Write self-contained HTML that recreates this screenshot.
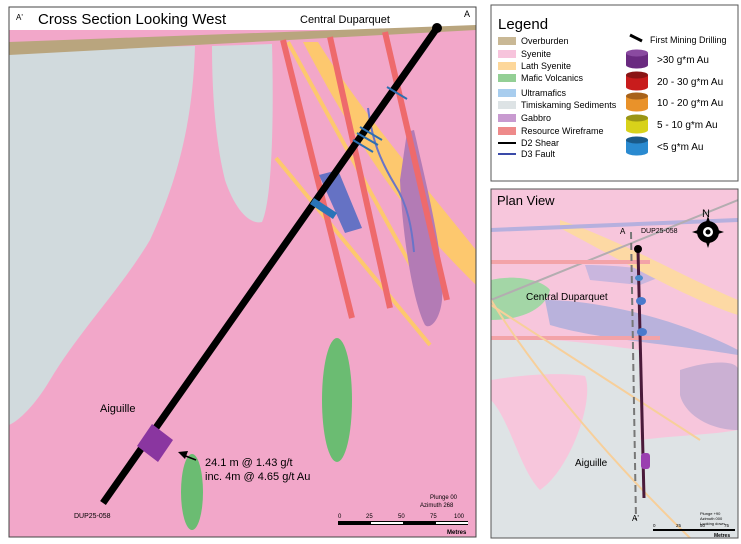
<!DOCTYPE html>
<html><head><meta charset="utf-8"><style>
body{margin:0;background:#fff;width:741px;height:544px;overflow:hidden}
svg{display:block;font-family:"Liberation Sans",Arial,sans-serif}
</style></head><body>
<svg width="741" height="544" viewBox="0 0 741 544">
<rect width="741" height="544" fill="#fff"/>
<!-- MAIN PANEL -->
<clipPath id="mc"><rect x="9" y="7" width="467" height="530"/></clipPath>
<g clip-path="url(#mc)">
<rect x="9" y="30" width="467" height="507" fill="#f2a7c9"/>
<path d="M9,50 L195,46 C193,120 178,180 150,240 C120,290 80,330 50,380 C35,405 20,420 9,425 Z" fill="#d1dadd"/>
<path d="M212,46 L272,44 C274,120 272,200 262,222 C250,225 235,210 225,180 C215,140 212,90 212,46 Z" fill="#d1dadd"/>
<path d="M9,42 L476,25 L476,30 L9,55 Z" fill="#b9a57e"/>
<path d="M303,42 L318,42 C360,110 420,180 476,250 L476,285 C420,230 370,170 303,42 Z" fill="#fdc86e"/>
<line x1="288" y1="42" x2="437" y2="313" stroke="#fdc86e" stroke-width="4"/>
<line x1="276" y1="158" x2="430" y2="345" stroke="#fdc86e" stroke-width="4"/>
<path d="M407,132 L414,130 C430,200 445,260 442,300 C440,320 430,330 425,325 C412,300 402,230 400,180 Z" fill="#b37bb5"/>
<g stroke="#ee6a6c" stroke-width="6"><line x1="283" y1="40" x2="352" y2="318"/><line x1="330" y1="37" x2="390" y2="308"/><line x1="385" y1="32" x2="447" y2="300"/></g>
<path d="M319,175 L338,170 L362,228 L345,233 Z" fill="#6572c4"/>
<path d="M368,108 C372,140 380,160 395,185 C408,205 412,230 414,252" stroke="#6a74c8" stroke-width="2" fill="none"/>
<ellipse cx="337" cy="400" rx="15" ry="62" fill="#6bbc72"/>
<ellipse cx="192" cy="492" rx="11" ry="38" fill="#6bbc72"/>
<line x1="437" y1="28" x2="103" y2="503" stroke="#000" stroke-width="7"/>
<circle cx="437" cy="28" r="5" fill="#000"/>
<g stroke="#2d6fb0" stroke-width="2"><line x1="387" y1="87" x2="407" y2="99"/><line x1="360" y1="127" x2="382" y2="140"/><line x1="357" y1="133" x2="378" y2="145"/><line x1="353" y1="140" x2="373" y2="152"/></g>
<path d="M314,198 L337,213 L333,219 L310,204 Z" fill="#2a74b8"/>
<path d="M152,424 L173,440 L158,462 L137,446 Z" fill="#8a36a0"/>
<line x1="196" y1="460" x2="183" y2="455" stroke="#000" stroke-width="1.5"/>
<path d="M178,452 L188,451 L185,459 Z" fill="#000"/>
</g>
<rect x="9" y="7" width="467" height="530" fill="none" stroke="#444" stroke-width="1"/>
<text x="16" y="20" font-size="8">A'</text>
<text x="38" y="24" font-size="15">Cross Section Looking West</text>
<text x="300" y="23" font-size="11">Central Duparquet</text>
<text x="464" y="17" font-size="9">A</text>
<text x="100" y="412" font-size="11">Aiguille</text>
<text x="205" y="466" font-size="11">24.1 m @ 1.43 g/t</text>
<text x="205" y="480" font-size="11">inc. 4m @ 4.65 g/t Au</text>
<text x="74" y="518" font-size="7">DUP25-058</text>
<text x="430" y="499" font-size="6">Plunge 00</text>
<text x="420" y="507" font-size="6">Azimuth 268</text>
<g font-size="6"><text x="338" y="518">0</text><text x="366" y="518">25</text><text x="398" y="518">50</text><text x="430" y="518">75</text><text x="454" y="518">100</text></g>
<rect x="338" y="521" width="130" height="4" fill="#000"/>
<rect x="371" y="522" width="32" height="2" fill="#fff"/><rect x="436" y="522" width="32" height="2" fill="#fff"/>
<text x="447" y="534" font-size="6" font-weight="bold">Metres</text>
<!-- LEGEND -->
<rect x="491" y="5" width="247" height="176" fill="#fff" stroke="#555"/>
<text x="498" y="29" font-size="15">Legend</text>
<g font-size="9">
<rect x="498" y="37" width="18" height="8" fill="#c9b895"/><text x="521" y="44">Overburden</text>
<rect x="498" y="50" width="18" height="8" fill="#f7c4dc"/><text x="521" y="57">Syenite</text>
<rect x="498" y="62" width="18" height="8" fill="#fdd79a"/><text x="521" y="69">Lath Syenite</text>
<rect x="498" y="74" width="18" height="8" fill="#93cf95"/><text x="521" y="81">Mafic Volcanics</text>
<rect x="498" y="89" width="18" height="8" fill="#a8cdee"/><text x="521" y="96">Ultramafics</text>
<rect x="498" y="101" width="18" height="8" fill="#dde3e5"/><text x="521" y="108">Timiskaming Sediments</text>
<rect x="498" y="114" width="18" height="8" fill="#c89ad0"/><text x="521" y="121">Gabbro</text>
<rect x="498" y="127" width="18" height="8" fill="#ee8a8a"/><text x="521" y="134">Resource Wireframe</text>
<line x1="498" y1="143" x2="516" y2="143" stroke="#000" stroke-width="2"/><text x="521" y="146">D2 Shear</text>
<line x1="498" y1="154" x2="516" y2="154" stroke="#3a4aa8" stroke-width="2"/><text x="521" y="157">D3 Fault</text>
<line x1="630" y1="35" x2="642" y2="41" stroke="#000" stroke-width="3"/><text x="650" y="43">First Mining Drilling</text>
<text x="657" y="63" font-size="10">&gt;30 g*m Au</text>
<text x="657" y="85" font-size="10">20 - 30 g*m Au</text>
<text x="657" y="106" font-size="10">10 - 20 g*m Au</text>
<text x="657" y="128" font-size="10">5 - 10 g*m Au</text>
<text x="657" y="150" font-size="10">&lt;5 g*m Au</text>
</g>
<g><rect x="626" y="53" width="22" height="12" fill="#6a2a80"/><ellipse cx="637" cy="53" rx="11" ry="3.5" fill="#8a4aa0"/><ellipse cx="637" cy="65" rx="11" ry="3.5" fill="#6a2a80"/>
<rect x="626" y="75" width="22" height="12" fill="#c81c1c"/><ellipse cx="637" cy="75" rx="11" ry="3.5" fill="#8a1515"/><ellipse cx="637" cy="87" rx="11" ry="3.5" fill="#c81c1c"/>
<rect x="626" y="96" width="22" height="12" fill="#e9922a"/><ellipse cx="637" cy="96" rx="11" ry="3.5" fill="#a8621a"/><ellipse cx="637" cy="108" rx="11" ry="3.5" fill="#e9922a"/>
<rect x="626" y="118" width="22" height="12" fill="#d8d21a"/><ellipse cx="637" cy="118" rx="11" ry="3.5" fill="#9a9515"/><ellipse cx="637" cy="130" rx="11" ry="3.5" fill="#d8d21a"/>
<rect x="626" y="140" width="22" height="12" fill="#2a8ad0"/><ellipse cx="637" cy="140" rx="11" ry="3.5" fill="#1a5a8a"/><ellipse cx="637" cy="152" rx="11" ry="3.5" fill="#2a8ad0"/></g>
<!-- PLAN VIEW -->
<clipPath id="pc"><rect x="491" y="189" width="247" height="349"/></clipPath>
<g clip-path="url(#pc)">
<rect x="491" y="189" width="247" height="349" fill="#f7c6dc"/>
<path d="M491,340 C540,335 600,345 640,350 L640,538 L491,538 Z" fill="#dee3e5"/>
<path d="M491,380 C520,375 560,372 585,376 C595,400 570,470 540,490 C520,470 510,420 491,400 Z" fill="#f7c6dc"/>
<path d="M640,440 C680,435 710,435 738,430 L738,538 L640,538 Z" fill="#dee3e5"/>
<path d="M680,370 C710,360 738,360 738,370 L738,430 C710,430 685,415 680,395 Z" fill="#cbb0d3"/>
<path d="M491,280 C510,275 540,278 550,290 C545,310 520,320 491,320 Z" fill="#a3d6a6"/>
<path d="M545,300 C600,300 680,320 738,350 L738,355 C680,345 600,340 550,325 Z" fill="#b9b2dc"/>
<path d="M585,265 C620,265 660,270 665,275 L640,285 L590,280 Z" fill="#c9b6de"/>
<path d="M560,220 C620,240 690,280 738,300 L738,315 C690,300 620,260 560,228 Z" fill="#fdd9a4"/>
<line x1="491" y1="230" x2="738" y2="220" stroke="#b6b0de" stroke-width="4"/>
<line x1="491" y1="300" x2="738" y2="200" stroke="#b3adb0" stroke-width="2"/>
<line x1="491" y1="262" x2="650" y2="262" stroke="#f3a3a8" stroke-width="4"/>
<line x1="491" y1="338" x2="660" y2="338" stroke="#f3a3a8" stroke-width="4"/>
<line x1="491" y1="305" x2="700" y2="440" stroke="#f7cf9a" stroke-width="2" fill="none"/>
<path d="M491,300 C540,380 620,470 690,538" stroke="#f7cf9a" stroke-width="2" fill="none"/>
<line x1="631" y1="232" x2="636" y2="520" stroke="#777" stroke-width="2" stroke-dasharray="7,4"/>
<line x1="638" y1="250" x2="644" y2="498" stroke="#4a1a3a" stroke-width="3"/>
<circle cx="638" cy="249" r="4" fill="#000"/>
<ellipse cx="639" cy="278" rx="4" ry="3" fill="#4a8acc"/><ellipse cx="641" cy="301" rx="5" ry="4" fill="#4a7acc"/><ellipse cx="642" cy="332" rx="5" ry="4" fill="#4a7acc"/>
<rect x="641" y="453" width="9" height="16" rx="3" fill="#9a40b0"/>
</g>
<rect x="491" y="189" width="247" height="349" fill="none" stroke="#555"/>
<text x="497" y="205" font-size="13">Plan View</text>
<text x="620" y="234" font-size="8">A</text>
<text x="641" y="233" font-size="7">DUP25-058</text>
<text x="526" y="300" font-size="10">Central Duparquet</text>
<text x="575" y="466" font-size="10">Aiguille</text>
<text x="632" y="521" font-size="8">A'</text>
<text x="702" y="217" font-size="11">N</text>
<g transform="translate(708,232)"><circle r="11" fill="#000"/><path d="M0,-16 L4,-4 L16,0 L4,4 L0,16 L-4,4 L-16,0 L-4,-4 Z" fill="#000"/><circle r="5" fill="#fff"/><circle r="2.5" fill="#000"/></g>
<g font-size="4"><text x="700" y="515">Plunge +90</text><text x="700" y="520">Azimuth 000</text><text x="700" y="525">Looking down</text></g>
<g font-size="4.5"><text x="653" y="527">0</text><text x="676" y="527">25</text><text x="700" y="527">50</text><text x="724" y="527">75</text></g>
<rect x="653" y="529" width="82" height="2" fill="#000"/>
<text x="714" y="537" font-size="5" font-weight="bold">Metres</text>
</svg>
</body></html>
